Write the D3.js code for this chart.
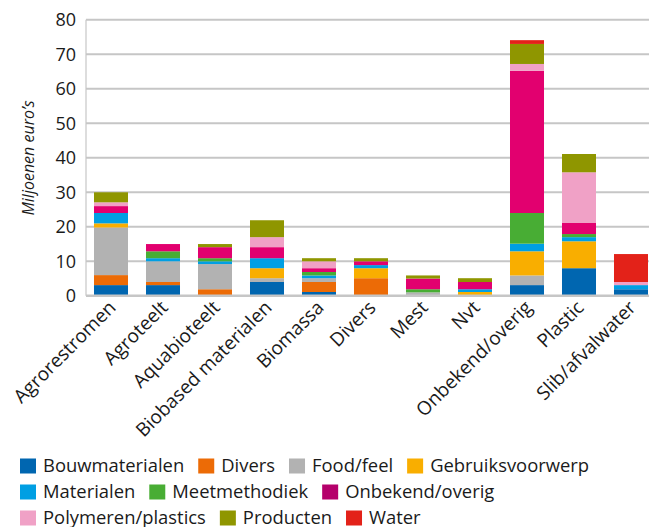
<!DOCTYPE html>
<html>
<head>
<meta charset="utf-8">
<script src="https://cdn.jsdelivr.net/npm/d3@7/dist/d3.min.js"></script>
<style>
  html, body { margin: 0; padding: 0; background: #fff; }
  svg { display: block; font-family: "Open Sans", "Noto Sans", sans-serif; }
</style>
</head>
<body>
<svg id="chart" width="649" height="527"></svg>
<script>
// Categories along the x axis
const categories = ["Agrorestromen", "Agroteelt", "Aquabioteelt", "Biobased materialen", "Biomassa",
  "Divers", "Mest", "Nvt", "Onbekend/overig", "Plastic", "Slib/afvalwater"];

// Series names (stack order, bottom to top)
const seriesNames = ["Bouwmaterialen", "Divers", "Food/feel", "Gebruiksvoorwerp", "Materialen",
  "Meetmethodiek", "Onbekend/overig", "Polymeren/plastics", "Producten", "Water"];

// Values in millions of euros, per series, one per category
const bouwmaterialen    = [3.1, 3.1, 0,   4.0, 1.1, 0,   0,   0,   3.1,  8.0, 1.9];
const divers            = [2.9, 0.9, 1.9, 0,   2.9, 5.1, 0,   0,   0,    0,   0];
const foodFeel          = [13.8, 6.0, 7.3, 1.1, 1.1, 0,  1.0, 0,   2.8,  0,   0];
const gebruiksvoorwerp  = [1.2, 0,   0,   2.9, 0,   2.9, 0,   1.1, 7.0,  7.8, 0];
const materialen        = [3.0, 0.9, 0.8, 2.9, 0.8, 0.9, 0,   0.8, 2.2,  1.2, 1.2];
const meetmethodiek     = [0,   2.0, 0.9, 0,   1.0, 0,   0.9, 0,   8.9,  0.9, 0];
const onbekendOverig    = [2.0, 2.1, 3.2, 3.2, 1.1, 1.1, 3.1, 2.1, 41.2, 3.2, 0];
const polymerenPlastics = [1.1, 0,   0,   2.9, 2.0, 0,   0,   0,   2.0,  14.7, 0.9];
const producten         = [2.9, 0,   0.9, 4.9, 0.9, 0.9, 0.9, 1.1, 5.8,  5.3, 0];
const water             = [0,   0,   0,   0,   0,   0,   0,   0,   1.1,  0,   8.1];

const seriesValues = [bouwmaterialen, divers, foodFeel, gebruiksvoorwerp, materialen,
  meetmethodiek, onbekendOverig, polymerenPlastics, producten, water];

const yTicks = [0, 10, 20, 30, 40, 50, 60, 70, 80];

const barColors = ["#0066b0", "#ec6b06", "#b2b2b2", "#f9ae00", "#009fe3",
  "#48ad34", "#e2006f", "#f0a1c6", "#8f9600", "#e32219"];
const swatchColors = ["#0066b0", "#ec6b06", "#b2b2b2", "#f9ae00", "#009fe3",
  "#48ad34", "#b5006b", "#f0a1c6", "#8f9600", "#e32219"];

// Legend rows (indices into seriesNames)
const legendRows = [[0, 1, 2, 3], [4, 5, 6], [7, 8, 9]];

const svg = d3.select("#chart");

// Build table rows for stacking
const table = categories.map((c, i) => {
  const row = { category: c };
  seriesNames.forEach((s, j) => { row[s] = seriesValues[j][i]; });
  return row;
});
const stacked = d3.stack().keys(seriesNames)(table);

const x = d3.scaleBand().domain(categories).range([85, 657])
  .paddingInner(0.346).paddingOuter(0.173);
const y = d3.scaleLinear().domain([0, 80]).range([295.8, 19.8]);

// Gridlines
svg.append("g").selectAll("line").data(yTicks.filter(t => t > 0)).join("line")
  .attr("x1", 86).attr("x2", 649)
  .attr("y1", d => y(d)).attr("y2", d => y(d))
  .attr("stroke", "#c6c6c6").attr("stroke-width", 2);

// Bars
svg.append("g").selectAll("g").data(stacked).join("g")
  .attr("fill", (d, i) => barColors[i])
  .selectAll("rect").data(d => d).join("rect")
  .attr("x", d => x(d.data.category))
  .attr("width", x.bandwidth())
  .attr("y", d => y(d[1]))
  .attr("height", d => Math.max(0, y(d[0]) - y(d[1])));

// Axis lines
svg.append("line").attr("x1", 86).attr("x2", 86).attr("y1", y(80)).attr("y2", y(0))
  .attr("stroke", "#c6c6c6").attr("stroke-width", 1.2);
svg.append("line").attr("x1", 86).attr("x2", 649).attr("y1", y(0)).attr("y2", y(0))
  .attr("stroke", "#c6c6c6").attr("stroke-width", 2.5);

// Y axis tick labels
const yAxis = d3.axisLeft(y).tickValues(yTicks).tickSize(0).tickPadding(10);
const gy = svg.append("g").attr("transform", "translate(86,0)").call(yAxis);
gy.select(".domain").remove();
gy.selectAll("text").attr("font-size", 18).attr("fill", "#1a1a1a")
  .attr("font-family", "'Open Sans', sans-serif");

// X axis labels, rotated
const xAxis = d3.axisBottom(x).tickSize(0).tickPadding(0);
const gx = svg.append("g").attr("transform", `translate(0,${y(0)})`).call(xAxis);
gx.select(".domain").remove();
gx.selectAll("text")
  .attr("font-size", 19).attr("fill", "#1a1a1a")
  .attr("font-family", "'Open Sans', sans-serif")
  .attr("text-anchor", "end")
  .attr("dy", null).attr("y", 0)
  .attr("transform", "translate(6,13) rotate(-45)");

// Y axis title
svg.append("text")
  .attr("transform", "translate(34,158) rotate(-90)")
  .attr("text-anchor", "middle")
  .attr("font-size", 16).attr("font-style", "italic").attr("fill", "#1a1a1a")
  .text("Miljoenen euro\u2019s");

// Legend
const legend = svg.append("g");
legendRows.forEach((row, r) => {
  let cx = 20;
  const cy = 466 + r * 26;
  row.forEach(idx => {
    legend.append("rect").attr("x", cx).attr("y", cy - 7.5).attr("width", 16).attr("height", 15)
      .attr("fill", swatchColors[idx]);
    const t = legend.append("text").attr("x", cx + 23).attr("y", cy).attr("dy", "0.35em")
      .attr("font-size", 18.4).attr("fill", "#1a1a1a").text(seriesNames[idx]);
    cx += 23 + t.node().getComputedTextLength() + 14;
  });
});
</script>
</body>
</html>
